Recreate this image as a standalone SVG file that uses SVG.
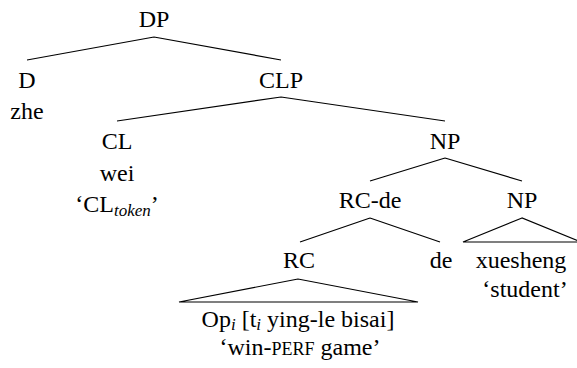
<svg xmlns="http://www.w3.org/2000/svg" width="577" height="368" viewBox="0 0 577 368">
<style>
.t{font-family:"Liberation Serif","Times New Roman",serif;font-size:24px;fill:#000;text-anchor:middle}
.sub{font-size:17px;font-style:italic}
.sc{font-size:18px}
.e{stroke:#000;stroke-width:1.2;fill:none}
</style>
<rect width="577" height="368" fill="#fff"/>
<g id="connectors">
<path class="e" d="M154,37 L27,60 M154,37 L281,60"/>
<path class="e" d="M281,97 L117,121 M281,97 L445,121"/>
<path class="e" d="M445,158 L370,181 M445,158 L522,181"/>
<path class="e" d="M370,218 L300,242 M370,218 L440,242"/>
<path class="e" d="M522,218 L463,242 L581,242 Z"/>
<path class="e" d="M298,279 L179,302 L418,302 Z"/>
</g>
<g id="n-DP"><text class="t" x="154" y="27">DP</text></g>
<g id="n-D"><text class="t" x="27" y="88">D</text><text class="t" x="27" y="119">zhe</text></g>
<g id="n-CLP"><text class="t" x="281" y="88">CLP</text></g>
<g id="n-CL"><text class="t" x="117" y="149">CL</text><text class="t" x="117" y="181">wei</text><text class="t" x="117" y="212">‘CL<tspan class="sub" dy="4">token</tspan><tspan dy="-4">’</tspan></text></g>
<g id="n-NP1"><text class="t" x="445" y="149">NP</text></g>
<g id="n-RCde"><text class="t" x="370" y="208">RC-de</text></g>
<g id="n-NP2"><text class="t" x="522" y="208">NP</text></g>
<g id="n-RC"><text class="t" x="299" y="268">RC</text></g>
<g id="n-de"><text class="t" x="441" y="268">de</text></g>
<g id="n-xuesheng"><text class="t" x="521" y="268">xuesheng</text><text class="t" x="525" y="297">‘student’</text></g>
<g id="n-Op"><text class="t" x="298" y="327">Op<tspan class="sub" dy="3">i</tspan><tspan dy="-3"> [t</tspan><tspan class="sub" dy="3">i</tspan><tspan dy="-3"> ying-le bisai]</tspan></text><text class="t" x="300" y="355">‘win-<tspan class="sc">PERF</tspan> game’</text></g>
</svg>
